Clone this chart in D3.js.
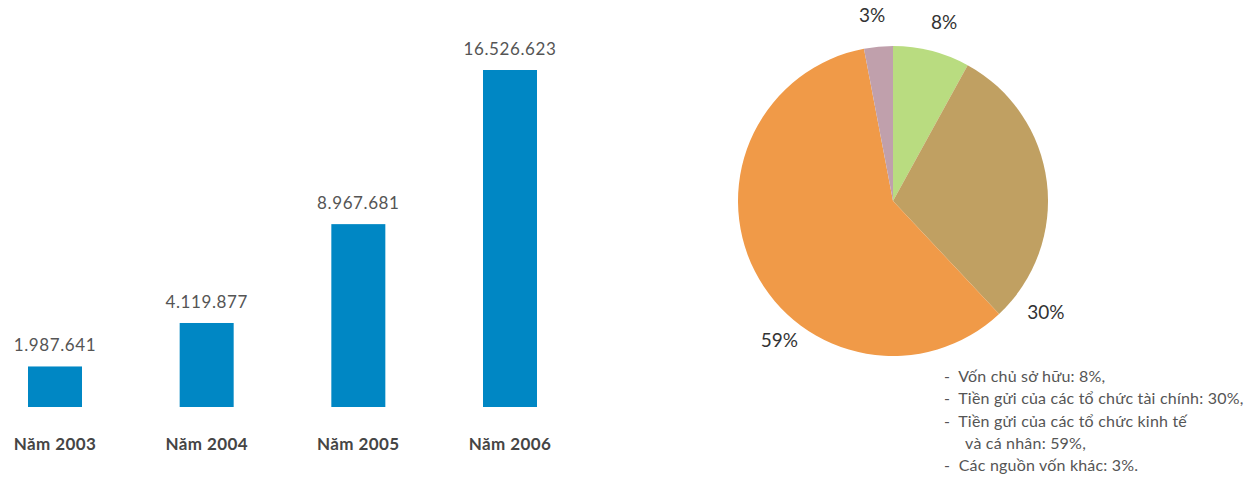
<!DOCTYPE html>
<html>
<head>
<meta charset="utf-8">
<script src="https://cdn.jsdelivr.net/npm/d3@7"></script>
<style>
  html, body { margin: 0; padding: 0; background: #fff; }
  svg { display: block; }
</style>
</head>
<body>
<svg id="chart" width="1244" height="478"></svg>
<script>
// Tổng nguồn vốn theo năm
const years = ["Năm 2003", "Năm 2004", "Năm 2005", "Năm 2006"];
const totals = [1987641, 4119877, 8967681, 16526623];
const totalLabels = ["1.987.641", "4.119.877", "8.967.681", "16.526.623"];

// Cơ cấu nguồn vốn
const shareNames = ["Vốn chủ sở hữu", "Tiền gửi của các tổ chức tài chính", "Tiền gửi của các tổ chức kinh tế và cá nhân", "Các nguồn vốn khác"];
const shareValues = [8, 30, 59, 3];
const shareColors = ["#b9dc80", "#c0a062", "#f09a48", "#c0a0ac"];

const legendLines = [
  "-  Vốn chủ sở hữu: 8%,",
  "-  Tiền gửi của các tổ chức tài chính: 30%,",
  "-  Tiền gửi của các tổ chức kinh tế",
  "     và cá nhân: 59%,",
  "-  Các nguồn vốn khác: 3%."
];

const FONT = "Lato, 'Open Sans', sans-serif";
const svg = d3.select("#chart");

// ---- Bar chart ----
const x = d3.scalePoint().domain(years).range([55, 510]);
const barW = 54;
const y = d3.scaleLinear().domain([0, totals[3]]).range([407, 70]);

const bars = svg.append("g");
bars.selectAll("rect")
  .data(years)
  .join("rect")
  .attr("x", (d) => x(d) - barW / 2)
  .attr("y", (d, i) => y(totals[i]))
  .attr("width", barW)
  .attr("height", (d, i) => y(0) - y(totals[i]))
  .attr("fill", "#0087c4");

bars.selectAll("text.val")
  .data(years)
  .join("text")
  .attr("class", "val")
  .attr("x", (d) => x(d))
  .attr("y", (d, i) => y(totals[i]) - 15)
  .attr("text-anchor", "middle")
  .attr("font-family", FONT)
  .attr("font-size", 17)
  .attr("letter-spacing", 0.6)
  .attr("fill", "#555")
  .text((d, i) => totalLabels[i]);

bars.selectAll("text.cat")
  .data(years)
  .join("text")
  .attr("class", "cat")
  .attr("x", (d) => x(d))
  .attr("y", 450)
  .attr("text-anchor", "middle")
  .attr("font-family", FONT)
  .attr("font-size", 17)
  .attr("font-weight", "bold")
  .attr("letter-spacing", 0.4)
  .attr("fill", "#454545")
  .text((d) => d);

// ---- Pie chart ----
const cx = 893, cy = 201, r = 155;
const pie = d3.pie().sort(null).value((d) => d);
const arcs = pie(shareValues);
const arc = d3.arc().innerRadius(0).outerRadius(r);

const pg = svg.append("g").attr("transform", `translate(${cx},${cy})`);
pg.selectAll("path")
  .data(arcs)
  .join("path")
  .attr("d", arc)
  .attr("fill", (d, i) => shareColors[i]);

// percentage labels outside the pie: angle (radians, clockwise from top) and distance
const labelAngles = [0.281, 2.206, 3.82, 6.17];
const labelDist = [184, 190, 181, 185];
pg.selectAll("text")
  .data(arcs)
  .join("text")
  .attr("x", (d, i) => Math.sin(labelAngles[i]) * labelDist[i])
  .attr("y", (d, i) => -Math.cos(labelAngles[i]) * labelDist[i])
  .attr("text-anchor", "middle")
  .attr("dominant-baseline", "middle")
  .attr("font-family", FONT)
  .attr("font-size", 19)
  .attr("fill", "#333")
  .text((d) => d.data + "%");

// ---- Legend ----
const lg = svg.append("g");
lg.selectAll("text")
  .data(legendLines)
  .join("text")
  .attr("x", 944)
  .attr("y", (d, i) => 382 + i * 22.3)
  .attr("font-family", FONT)
  .attr("font-size", 16)
  .attr("letter-spacing", 0.2)
  .attr("fill", "#555")
  .attr("xml:space", "preserve")
  .style("white-space", "pre")
  .text((d) => d);
</script>
</body>
</html>
